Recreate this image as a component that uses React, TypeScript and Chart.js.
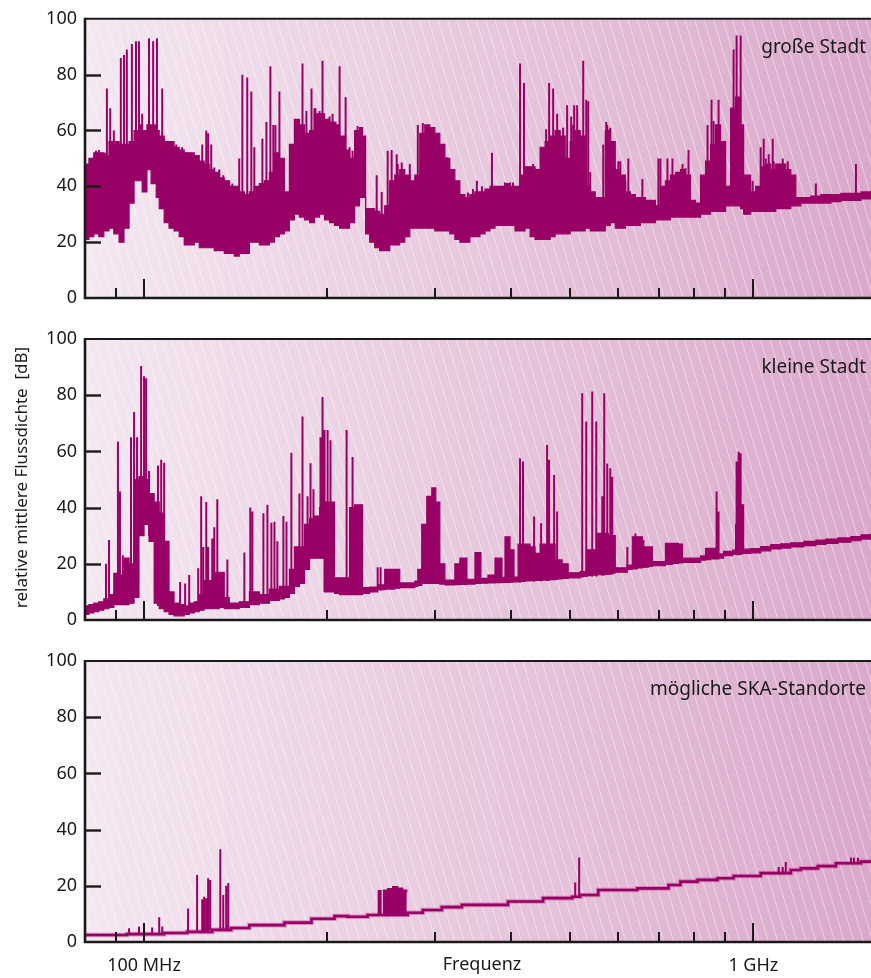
import React, { useEffect, useRef } from 'react';
import { Chart, registerables } from 'chart.js';

Chart.register(...registerables);

// ---------- text & axes ----------
const FONT = '"Noto Sans", sans-serif';
const INK = '#1a1a1a';
const TRACE = '#990066';
const HALO = 'rgba(200,95,160,0.6)';

const xMin = 80;
const xMax = 1560;
const yTickValues = [0, 20, 40, 60, 80, 100];
const innerYTicks = [20, 40, 60, 80];
const minorTickFreqs = [90, 200, 300, 400, 500, 600, 700, 800, 900];
const majorTickFreqs = [100, 1000];
const majorTickLabels = ['100 MHz', '1 GHz'];
const xAxisTitle = 'Frequenz';
const yAxisTitle = 'relative mittlere Flussdichte  [dB]';
const panelTitles = ['große Stadt', 'kleine Stadt', 'mögliche SKA-Standorte'];

// ---------- Panel 1: große Stadt (MHz, dB) ----------
const p1Freq = [
  79.7, 81.2, 82.7, 84.3, 85.9, 87.6, 89.2, 91.0, 92.7, 94.5, 96.3, 98.1,
  99.3, 101.1, 102.7, 104.7,
  105.9, 107.9, 109.9, 112.0, 114.2, 116.4, 118.6, 120.9, 123.2, 125.5,
  127.9, 130.4, 132.9, 135.4, 138.0, 140.6, 143.3, 146.1, 148.9, 151.7,
  154.6, 157.6, 160.6, 163.7, 166.8, 170.0, 173.2, 176.5, 179.9, 183.4,
  186.9, 190.4, 194.1, 197.8, 201.6, 205.4, 209.4, 213.4, 217.4, 221.6, 225.8,
  228.4, 231.0,
  234.6, 239.1, 243.6, 248.3, 253.0, 257.9, 262.8, 267.8, 273.0, 278.2,
  283.5, 288.9, 294.4, 300.1, 305.8, 311.7, 317.6, 323.7, 329.9, 336.2,
  342.6, 349.2, 355.9, 362.7, 369.6, 376.7, 383.9, 391.2, 398.7, 406.3,
  414.1, 422.0, 430.1, 438.3, 446.7, 455.3, 464.0, 472.8, 481.9, 491.1,
  500.5, 510.1, 519.8, 529.8, 539.9, 550.2, 560.7, 571.5, 582.4, 593.5,
  604.9, 616.5, 628.3, 640.3, 652.5, 665.0, 677.7, 690.7, 703.9, 717.4,
  731.1, 745.1, 759.3, 773.8, 788.6, 803.7, 819.1, 834.8, 850.7, 867.0,
  883.6, 900.5, 917.7, 935.3, 953.2,
  964.0,
  990.0, 1008.9, 1028.2, 1047.9, 1067.9, 1088.3, 1109.2, 1130.4, 1152.0, 1174.0, 1196.5,
  1242.7, 1290.7, 1340.6, 1392.3, 1446.1, 1502.0, 1560,
];
const p1Low = [
  21, 22, 23, 22, 24, 25, 23, 20, 25, 34, 42, 42,
  38, 46, 41, 36,
  32, 27, 25, 24, 22, 19, 19, 20, 18, 18,
  18, 17, 17, 16, 16, 15, 16, 16, 20, 20,
  19, 19, 20, 22, 23, 24, 28, 30, 29, 28,
  27, 29, 30, 28, 27, 26, 25, 25, 27, 33, 36,
  36, 23,
  20, 18, 17, 17, 19, 19, 20, 22, 25, 25,
  25, 25, 25, 24, 24, 24, 23, 21, 20, 20,
  22, 22, 23, 24, 25, 26, 26, 26, 26, 24,
  24, 25, 22, 21, 21, 21, 22, 23, 23, 23,
  24, 24, 24, 25, 24, 24, 24, 26, 27, 25,
  25, 26, 26, 26, 27, 27, 27, 28, 28, 28,
  29, 29, 29, 29, 29, 29, 30, 30, 31, 31,
  31, 33, 33, 33, 32,
  30,
  31, 31, 31, 31, 31, 32, 32, 32, 33, 33, 34,
  34, 34, 34.5, 35, 35, 35.5, 36,
];
const p1High = [
  48, 50, 52, 52, 51, 56, 56, 55, 55, 56, 60, 62,
  60, 62, 62, 60,
  58, 56, 56, 54, 53, 52, 52, 51, 49, 48,
  46, 45, 43, 42, 40, 40, 38, 37, 38, 40,
  41, 42, 45, 52, 50, 38, 55, 64, 62, 59,
  60, 66, 66, 64, 63, 62, 58, 53, 50, 60, 61,
  58, 32,
  32, 31, 30, 33, 42, 44, 46, 44, 42, 44,
  59, 62, 61, 59, 55, 50, 46, 42, 37, 36,
  37, 38, 38, 39, 40, 40, 40, 41, 40, 40,
  44, 47, 47, 46, 54, 56, 58, 60, 58, 50,
  56, 60, 58, 40, 38, 36, 36, 60, 56, 46,
  44, 38, 37, 36, 36, 35, 35, 33, 40, 42,
  44, 45, 46, 44, 35, 34, 44, 49, 55, 62,
  56, 40, 68, 72, 62,
  44,
  38, 40, 47, 48, 46, 48, 48, 46, 44, 36, 36,
  36.5, 37, 37, 37.5, 37.5, 38, 38.5,
];
// tall isolated spikes
const p1SpikeFreq = [
  86.9, 88.0, 91.6, 92.7, 93.7, 95.5, 97.0, 98.1, 101.9, 103.5, 105.0, 107.1,
  126.5, 128.9, 143.3, 145.0, 147.7, 150.0, 151.7, 156.4, 161.2, 163.0, 166.8,
  182.0, 188.3, 190.4, 196.3, 209.4, 214.2, 240.9, 245.5, 254.9, 260.8,
  351.8, 372.4, 414.1, 420.4, 462.2, 469.3, 476.4, 502.4, 508.1, 525.8, 531.8, 539.9,
  573.6, 604.9, 623.5, 698.6, 722.8, 750.7, 765.1, 782.7, 853.9, 876.9, 928.2, 938.8, 953.2,
  997.5, 1028.2, 1040.0, 1076.0, 1266.5, 1473.8,
];
const p1SpikeTop = [
  75, 68, 86, 87, 89, 91, 92, 92, 93, 92, 93, 75,
  60, 55, 50, 80, 79, 74, 54, 57, 83, 62, 74,
  84, 75, 68, 85, 83, 72, 44, 38, 53, 48,
  42, 52, 84, 77, 77, 75, 66, 65, 69, 85, 71, 45,
  63, 49, 50, 50, 50, 44, 48, 53, 71, 71, 89, 94, 94,
  42, 54, 57, 57, 41, 48,
];
const p1SpikeBase = [
  40, 40, 40, 40, 45, 50, 50, 50, 50, 50, 50, 45,
  40, 40, 30, 30, 30, 30, 30, 30, 35, 35, 35,
  45, 45, 45, 45, 40, 40, 25, 25, 30, 30,
  30, 30, 30, 30, 35, 35, 35, 35, 35, 35, 30, 30,
  35, 35, 30, 32, 32, 32, 32, 32, 40, 40, 40, 40, 40,
  33, 35, 35, 35, 35, 36,
];
// medium spikes forming the ragged upper edge
const p1RidgeFreq = [
  83.4, 84.3, 86.3, 89.2, 99.3, 107.9, 109.9, 112.9, 115.5, 118.1,
  120.4, 124.6, 127.4, 130.4, 132.9, 134.9, 138.0, 139.6, 158.8, 164.3,
  184.7, 191.1, 194.1, 201.6, 203.9, 206.2, 217.4, 219.9, 224.1, 227.5,
  251.1, 259.8, 264.8, 273.0, 281.4, 286.7, 292.2, 297.8, 308.1, 314.0,
  321.3, 340.0, 346.6, 358.6, 362.7, 383.9, 391.2, 398.7, 403.3, 435.0,
  457.0, 487.4, 494.8, 506.2, 513.9, 535.8, 567.1, 575.8, 582.4, 589.1,
  600.3, 616.5, 657.5, 703.9, 736.6, 739.4, 759.3, 773.8, 841.1, 860.5,
  873.6, 924.7, 964.0, 1047.9, 1059.8, 1080.1, 1117.6, 1139.0,
];
const p1RidgeTop = [
  52.7, 53, 52, 60, 66, 57, 56, 55, 54, 52,
  51.5, 55, 59, 46.7, 46, 44, 42, 41, 63, 62,
  67, 68, 67, 65, 66, 63, 54, 52.7, 61.6, 61,
  52.7, 51.5, 48.5, 48, 62, 62.7, 61.6, 59.2, 51.5, 50.4,
  45, 37.8, 39, 40, 37, 40, 41.4, 41.4, 41.4, 48,
  60.4, 61, 69, 62, 69, 70.5, 55, 62, 61, 44.5,
  49, 42, 42.6, 50, 50, 43, 43.7, 46.5, 62, 63.4,
  53.5, 56, 43.8, 50, 51.5, 49, 50, 49,
];
const p1RidgeBase = [
  35, 35, 35, 35, 45, 35, 35, 35, 30, 30,
  30, 30, 30, 25, 25, 25, 25, 25, 30, 30,
  40, 40, 40, 40, 40, 40, 35, 35, 45, 45,
  25, 25, 28, 30, 35, 35, 35, 35, 30, 30,
  30, 25, 28, 28, 28, 30, 30, 30, 30, 30,
  30, 30, 30, 30, 30, 30, 32, 32, 32, 30,
  30, 30, 30, 32, 32, 32, 32, 32, 35, 35,
  35, 36, 33, 34, 34, 34, 34, 34,
];

// ---------- Panel 2: kleine Stadt ----------
const p2Freq = [
  79.7, 81.2, 82.7, 84.3, 85.9, 87.6, 89.2, 91.0, 92.7, 94.5,
  96.3, 98.1, 100, 101.9, 103.9, 105.9, 107.9, 109.9, 112.0, 114.2,
  116.4, 118.6, 120.9, 123.2, 125.5, 127.9, 130.4, 132.9, 135.4, 138.0,
  143.3, 148.9, 154.6, 160.6, 166.8, 170.0, 173.2, 176.5, 179.9, 183.4,
  186.9, 190.4, 194.1, 197.8, 201.6, 205.4, 209.4, 213.4, 217.4, 221.6,
  225.8, 228.4, 234.6, 241.8, 248.3, 257.9, 262.8, 278.2, 281.4, 285.6,
  291.1, 296.7, 301.2, 305.8, 311.7, 323.7, 329.9, 338.8, 349.2, 357.2,
  366.8, 376.7, 386.8, 391.2, 398.7, 404.8, 411.0, 422.0, 430.1, 438.3,
  446.7, 460.5, 472.8, 485.5, 496.7, 519.8, 533.8, 544.0, 554.4, 567.1,
  578.0, 589.1, 593.5, 621.2, 633.0, 645.1, 657.5, 672.6, 682.9, 717.4,
  736.6, 753.6, 765.1, 819.1, 834.8, 850.7, 867.0, 893.7, 924.7, 935.3,
  953.2, 964.0, 990.0, 1028.2, 1067.9, 1109.2, 1152.0, 1210.2, 1266.5, 1315.4,
  1376.6, 1446.1, 1502.0, 1560,
];
const p2Low = [
  2, 2.5, 3, 3.5, 4, 4.5, 5.5, 5.5, 5.5, 6,
  8, 30, 34, 28, 6, 4, 3, 2, 1.5, 1.5,
  2, 2.5, 3, 3.5, 4, 4, 4, 4.5, 4, 4,
  4.5, 5.5, 6, 7, 7.5, 8, 9.5, 12, 13, 18,
  22, 22, 22, 10, 10, 9.5, 9, 9, 9, 9,
  9, 9.5, 10, 10.8, 11, 11.3, 11.5, 12, 12.3, 13,
  13, 13, 13, 12.8, 12.5, 12.6, 12.7, 12.8, 13, 13.1,
  13.2, 13.3, 13.4, 13.4, 13.5, 13.6, 13.7, 13.9, 14, 14.1,
  14.2, 14.4, 14.6, 14.8, 15, 15.5, 15.8, 16, 16.1, 16.3,
  16.5, 16.8, 17, 18, 18.3, 18.5, 18.8, 19.1, 19.3, 19.8,
  20.1, 20.3, 20.5, 21.3, 21.5, 21.7, 22, 22.9, 23.4, 23.5,
  23.6, 23.7, 23.9, 24.6, 25.3, 25.6, 26.0, 26.5, 26.9, 27.3,
  27.7, 28.2, 28.8, 29.3,
];
const p2High = [
  5, 5.5, 6, 6.5, 7.5, 9, 16.6, 16, 22, 20,
  50, 51, 50, 45, 42, 38, 28, 10, 6, 5.5,
  5, 6, 6.5, 9, 14, 14, 17, 17, 8, 6,
  6.5, 10, 9, 11, 12, 12, 18, 26, 26, 34,
  36, 37, 40, 42, 42, 15, 15, 15, 40, 41,
  41, 11.5, 11.7, 12.5, 18, 18, 13.2, 13.8, 18, 34,
  44, 47, 42, 20, 14.2, 20, 22, 14.5, 24, 14.8,
  16, 22, 15.2, 29.6, 25, 15.3, 27, 27, 26, 23.7,
  27, 27, 21.4, 20, 16.8, 17.2, 25, 25, 30.8, 30.8,
  30, 30, 18.6, 19.5, 29.6, 29.6, 26, 26, 20.8, 27.3,
  27.3, 27, 22, 22.8, 25.5, 25.5, 23.5, 24.4, 24.9, 34,
  41, 25.2, 25.4, 26.1, 26.8, 27.1, 27.5, 28.0, 28.4, 28.8,
  29.2, 29.7, 30.3, 30.8,
];
const p2SpikeFreq = [
  86.6, 87.6, 90.6, 91.3, 92.3, 95.2, 96.3, 97.4, 98.9, 100, 100.8, 101.9,
  105.4, 106.7, 107.9, 114.6, 116.8, 118.6, 122.7, 124.1, 125.1, 126.5, 127.4,
  129.4, 130.4, 131.9, 137.0, 146.1, 149.4, 150.6, 157.0, 159.4, 161.8, 163.7,
  165.5, 169.3, 171.3, 174.5, 179.9, 182.0, 185.5, 187.6, 189.7, 194.8, 196.3,
  197.8, 200.1, 202.3, 215.0, 219.9, 241.8, 244.5,
  414.1, 418.8, 436.7, 448.4, 458.7, 462.2, 471.0, 476.4,
  523.8, 531.8, 544.0, 552.3, 565.0, 569.3, 575.8, 582.4, 586.8,
  621.2, 640.3, 660.0, 870.3, 876.9, 938.8, 946.0, 953.2,
];
const p2SpikeTop = [
  20, 28.5, 63.5, 45.7, 23, 65, 74, 65, 90.4, 86.7, 86, 53,
  55, 57, 56, 13.5, 13, 16, 18.4, 44, 26, 42, 26,
  29, 33, 43, 21.5, 24, 40, 38.6, 38, 41, 34.6, 35,
  28, 37, 35, 59.5, 45, 72.4, 44, 55.8, 46.5, 65, 79.4,
  67.6, 67.6, 64, 67.6, 58, 18.8, 18.8,
  57.6, 56.4, 36.8, 34.4, 62.3, 57, 51.6, 38.6,
  80.7, 70.6, 81.3, 70.6, 44, 80.7, 55.7, 54, 51,
  26, 30.8, 28.5, 45.7, 38.6, 56.4, 59.9, 59.3,
];
const p2SpikeBase = [
  5, 5, 6, 6, 6, 10, 10, 10, 40, 40, 40, 30,
  5, 5, 4, 2, 2, 2.5, 3.5, 4, 4, 4, 4,
  4, 4, 4.5, 4, 5, 5.5, 5.5, 6, 6.5, 7, 7,
  7.5, 8, 8, 9.5, 13, 13, 20, 22, 22, 22, 22,
  10, 10, 10, 9, 9, 10.5, 10.5,
  13.3, 13.5, 13.7, 13.8, 14, 14, 14.2, 14.2,
  15, 15.3, 15.5, 15.5, 15.8, 15.8, 16, 16, 16.3,
  17.5, 18, 18.5, 21.5, 21.5, 23, 23, 23.1,
];

// ---------- Panel 3: mögliche SKA-Standorte ----------
const p3StepFreq = [
  79.7, 93.7, 107.9, 117.7, 129.4, 139.0, 148.9, 170.0, 188.3, 205.4,
  215.8, 232.8, 270.9, 286.7, 308.1, 332.4, 395.7, 451.8, 504.3, 519.8,
  556.5, 645.1, 725.6, 759.3, 809.8, 873.6, 928.2, 1028.2, 1152.0, 1196.5,
  1276.1, 1366.2, 1502.0, 1560,
];
const p3StepLevel = [
  2.5, 2.8, 3.2, 3.6, 4.3, 5.0, 6.0, 6.9, 8.3, 9.2,
  9.0, 9.6, 10.4, 11.4, 12.4, 13.2, 14.4, 15.6, 16.1, 16.7,
  18.5, 19.1, 20.3, 21.5, 22.1, 22.7, 23.5, 24.5, 25.6, 26.2,
  27.0, 28.0, 28.6, 28.6,
];
const p3SpikeFreq = [
  94.5, 98.1, 100, 103.1, 105.9, 107.1, 118.1, 122.2,
  124.6, 125.5, 126.5, 127.4, 128.4, 133.4, 134.9, 136.4, 137.5,
  242.7, 244.5, 510.1, 517.8, 1100.8, 1117.6, 1130.4, 1446.1, 1462.7, 1485.0,
];
const p3SpikeTop = [
  4.9, 5.5, 6, 5.2, 8.8, 5.5, 11.9, 23.9,
  15.2, 16.1, 15.6, 22.7, 22.1, 33, 16.7, 20, 21,
  18.5, 18.5, 21.2, 30.1, 26.7, 26.7, 28.5, 30.1, 30, 30,
];
const p3SpikeBase = [
  2.5, 2.8, 2.8, 2.8, 2.8, 3, 3.6, 3.6,
  3.8, 3.8, 3.8, 3.8, 4.3, 4.3, 4.3, 4.3, 4.5,
  9.6, 9.6, 16.1, 16.1, 24.5, 24.5, 24.5, 28, 28, 28,
];
const p3HumpFreq = [246.4, 251.1, 255.9, 260.8, 265.8, 269.9];
const p3HumpLow = [9.6, 9.6, 9.6, 9.6, 9.6, 9.8];
const p3HumpHigh = [18.5, 19, 19.7, 19.2, 18.5, 17.5];

// ---------- dataset helpers ----------
function bandSets(freq: number[], lo: number[], hi: number[], color: string, stepped = true) {
  return [
    {
      data: freq.map((x, i) => ({ x, y: lo[i] })),
      borderColor: color, borderWidth: 1.2, pointRadius: 0, fill: false, stepped,
    },
    {
      data: freq.map((x, i) => ({ x, y: hi[i] })),
      borderColor: color, borderWidth: 1.2, pointRadius: 0, stepped,
      fill: '-1', backgroundColor: color,
    },
  ];
}

function spikeSet(freq: number[], top: number[], base: number[], color: string, width = 2) {
  return {
    data: freq.flatMap((x, i) => [
      { x, y: base[i] },
      { x, y: top[i] },
      { x, y: null },
    ]),
    borderColor: color, borderWidth: width, pointRadius: 0, spanGaps: false, fill: false,
  };
}

function decorPlugin(label: string, withYTitle: boolean, withXTitle: boolean) {
  return {
    id: 'decor',
    beforeDatasetsDraw(chart: any) {
      const { ctx, chartArea: a } = chart;
      ctx.save();
      const g = ctx.createLinearGradient(a.left, 0, a.right, 0);
      g.addColorStop(0, '#f4e8f1');
      g.addColorStop(1, '#daa8ca');
      ctx.fillStyle = g;
      ctx.fillRect(a.left, a.top, a.right - a.left, a.bottom - a.top);
      ctx.beginPath();
      ctx.rect(a.left, a.top, a.right - a.left, a.bottom - a.top);
      ctx.clip();
      ctx.strokeStyle = 'rgba(255,255,255,0.45)';
      ctx.lineWidth = 1;
      const h = a.bottom - a.top;
      const dx = h * 0.3;
      for (let x = a.left - dx - 10; x < a.right + 10; x += 9.5) {
        ctx.beginPath();
        ctx.moveTo(x, a.top);
        ctx.lineTo(x + dx, a.bottom);
        ctx.stroke();
      }
      ctx.restore();
    },
    afterDatasetsDraw(chart: any) {
      const { ctx, chartArea: a } = chart;
      const xs = chart.scales.x;
      const ys = chart.scales.y;
      ctx.save();
      ctx.strokeStyle = INK;
      ctx.lineWidth = 2;
      ctx.beginPath();
      ctx.moveTo(a.left, a.top);
      ctx.lineTo(a.right, a.top);
      ctx.stroke();
      ctx.lineWidth = 2.6;
      ctx.beginPath();
      ctx.moveTo(a.left, a.top - 1);
      ctx.lineTo(a.left, a.bottom);
      ctx.lineTo(a.right, a.bottom);
      ctx.stroke();
      ctx.lineWidth = 2.4;
      innerYTicks.forEach((v) => {
        const py = Math.round(ys.getPixelForValue(v)) + 0.5;
        ctx.beginPath();
        ctx.moveTo(a.left, py);
        ctx.lineTo(a.left + 16, py);
        ctx.stroke();
      });
      ctx.lineWidth = 2;
      minorTickFreqs.forEach((f) => {
        const px = Math.round(xs.getPixelForValue(f));
        ctx.beginPath();
        ctx.moveTo(px, a.bottom);
        ctx.lineTo(px, a.bottom - 10);
        ctx.stroke();
      });
      majorTickFreqs.forEach((f) => {
        const px = Math.round(xs.getPixelForValue(f));
        ctx.beginPath();
        ctx.moveTo(px, a.bottom);
        ctx.lineTo(px, a.bottom - 19);
        ctx.stroke();
      });
      ctx.fillStyle = INK;
      ctx.font = `19px ${FONT}`;
      ctx.textAlign = 'right';
      ctx.textBaseline = 'middle';
      ctx.fillText(label, a.right - 5, a.top + 29);
      if (withYTitle) {
        ctx.save();
        ctx.translate(22, (a.top + a.bottom) / 2 - 2);
        ctx.rotate(-Math.PI / 2);
        ctx.font = `17px ${FONT}`;
        ctx.textAlign = 'center';
        ctx.textBaseline = 'middle';
        ctx.fillText(yAxisTitle, 0, 0);
        ctx.restore();
      }
      if (withXTitle) {
        ctx.font = `18px ${FONT}`;
        ctx.textAlign = 'center';
        ctx.textBaseline = 'middle';
        ctx.fillText(xAxisTitle, (a.left + a.right) / 2 + 4, a.bottom + 23);
      }
      ctx.restore();
    },
  };
}

function makeConfig(datasets: any[], opts: { padTop: number; padBottom: number; showX: boolean; label: string; yTitle: boolean }) {
  return {
    type: 'line' as const,
    data: { datasets },
    options: {
      responsive: false,
      animation: false as const,
      devicePixelRatio: 1,
      layout: { padding: { top: opts.padTop, bottom: opts.padBottom, left: 0, right: 0 } },
      plugins: { legend: { display: false }, tooltip: { enabled: false } },
      elements: { point: { radius: 0 }, line: { tension: 0 } },
      scales: {
        x: {
          type: 'logarithmic' as const,
          min: xMin,
          max: xMax,
          display: opts.showX,
          grid: { display: false, drawTicks: false },
          border: { display: false },
          afterBuildTicks: (s: any) => { s.ticks = majorTickFreqs.map((v) => ({ value: v })); },
          afterFit: (s: any) => { s.height = opts.showX ? 36 : 0; },
          ticks: {
            autoSkip: false, maxRotation: 0, minRotation: 0, padding: 13,
            color: INK, font: { family: FONT, size: 18 },
            callback: (v: any) => {
              const i = majorTickFreqs.indexOf(Number(v));
              return i >= 0 ? majorTickLabels[i] : '';
            },
          },
        },
        y: {
          min: 0,
          max: 100,
          grid: { display: false, drawTicks: false },
          border: { display: false },
          afterBuildTicks: (s: any) => { s.ticks = yTickValues.map((v) => ({ value: v })); },
          afterFit: (s: any) => { s.width = 85; },
          ticks: { padding: 8, color: INK, font: { family: FONT, size: 18 } },
        },
      },
    },
    plugins: [decorPlugin(opts.label, opts.yTitle, opts.showX)],
  };
}

export default function App() {
  const c1 = useRef<HTMLCanvasElement>(null);
  const c2 = useRef<HTMLCanvasElement>(null);
  const c3 = useRef<HTMLCanvasElement>(null);

  useEffect(() => {
    const ds1 = [
      ...bandSets(p1Freq, p1Low, p1High, TRACE),
      spikeSet(p1SpikeFreq, p1SpikeTop, p1SpikeBase, TRACE, 2),
      spikeSet(p1RidgeFreq, p1RidgeTop, p1RidgeBase, TRACE, 2),
    ];
    const ds2 = [
      ...bandSets(p2Freq, p2Low, p2High, TRACE),
      spikeSet(p2SpikeFreq, p2SpikeTop, p2SpikeBase, TRACE, 2),
    ];
    const ds3 = [
      {
        data: p3StepFreq.map((x, i) => ({ x, y: p3StepLevel[i] })),
        borderColor: TRACE, borderWidth: 2.6, pointRadius: 0, stepped: true, fill: false,
      },
      spikeSet(p3SpikeFreq, p3SpikeTop, p3SpikeBase, TRACE, 2),
      ...bandSets(p3HumpFreq, p3HumpLow, p3HumpHigh, TRACE),
      {
        data: p3StepFreq.map((x, i) => ({ x, y: p3StepLevel[i] })),
        borderColor: HALO, borderWidth: 4.6, pointRadius: 0, stepped: true, fill: false,
      },
    ];
    const charts = [
      new Chart(c1.current!, makeConfig(ds1, { padTop: 17, padBottom: 22, showX: false, label: panelTitles[0], yTitle: false }) as any),
      new Chart(c2.current!, makeConfig(ds2, { padTop: 19, padBottom: 20, showX: false, label: panelTitles[1], yTitle: true }) as any),
      new Chart(c3.current!, makeConfig(ds3, { padTop: 21, padBottom: 0, showX: true, label: panelTitles[2], yTitle: false }) as any),
    ];
    return () => charts.forEach((c) => c.destroy());
  }, []);

  const cs = (top: number): React.CSSProperties => ({ position: 'absolute', left: 0, top, display: 'block' });
  return (
    <div style={{ position: 'absolute', left: 0, top: 0, width: 871, height: 978, background: '#fff', overflow: 'hidden' }}>
      <canvas ref={c1} width={871} height={320} style={cs(0)} />
      <canvas ref={c2} width={871} height={320} style={cs(320)} />
      <canvas ref={c3} width={871} height={338} style={cs(640)} />
    </div>
  );
}
